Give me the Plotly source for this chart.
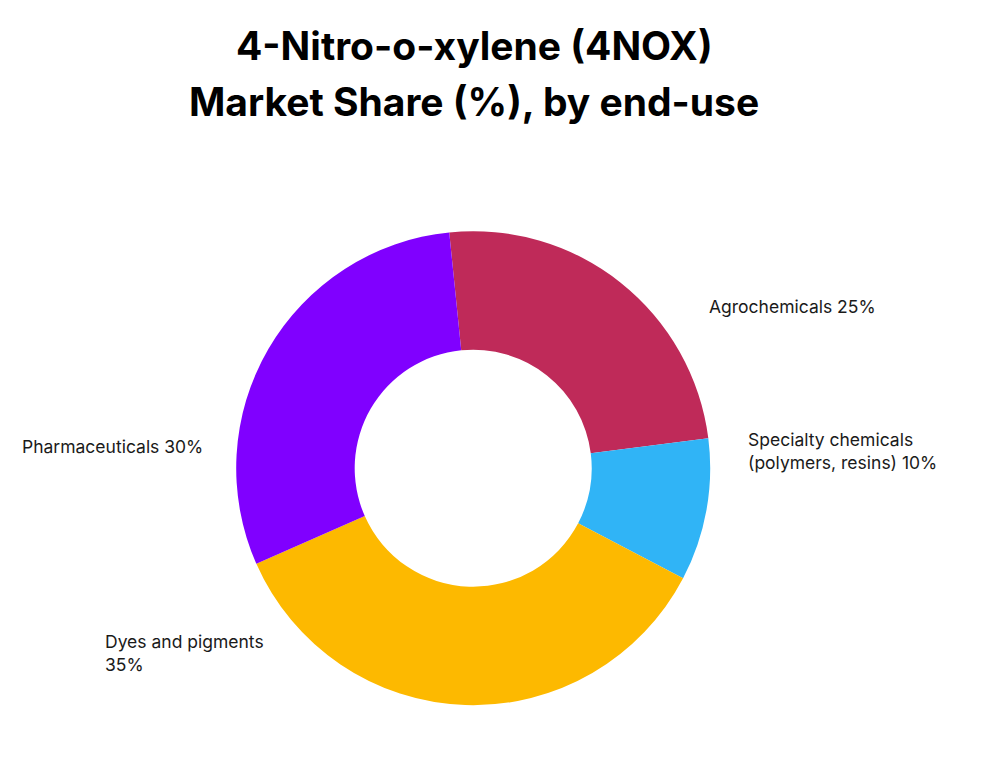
import plotly.graph_objects as go

categories = ["Agrochemicals", "Specialty chemicals (polymers, resins)", "Dyes and pigments", "Pharmaceuticals"]
shares = [24.6, 9.7, 35.7, 30.0]
colors = ["#BF2A59", "#30B4F6", "#FDB900", "#8000FF"]
label_texts = ["Agrochemicals 25%", "Specialty chemicals<br>(polymers, resins) 10%", "Dyes and pigments<br>35%", "Pharmaceuticals 30%"]
title_lines = ["4-Nitro-o-xylene (4NOX)", "Market Share (%), by end-use"]

OFF = 8  # default page body margin
W, H = 996 - 2 * OFF, 757 - 2 * OFF
cx, cy, r = 473.2 - OFF, 468.2 - OFF, 237


def px(x):
    return (x - OFF) / W


def py(y):
    return 1 - (y - OFF) / H


fig = go.Figure(go.Pie(
    labels=categories,
    values=shares,
    hole=0.5,
    sort=False,
    direction="clockwise",
    rotation=-5.8,
    marker=dict(colors=colors, line=dict(width=0)),
    textinfo="none",
    hoverinfo="label",
    showlegend=False,
    domain=dict(x=[(cx - r) / W, (cx + r) / W], y=[(H - cy - r) / H, (H - cy + r) / H]),
))

label_pos = [(707, 306), (746, 451), (103, 653), (20, 446)]
for txt, (x, y) in zip(label_texts, label_pos):
    fig.add_annotation(x=px(x), y=py(y), xref="paper", yref="paper", text=txt,
                       showarrow=False, xanchor="left", yanchor="middle", align="left",
                       font=dict(family="Inter", size=17.5, color="#1a1a1a"))

for txt, y in zip(title_lines, [45, 102]):
    fig.add_annotation(x=px(474), y=py(y), xref="paper", yref="paper", text="<b>" + txt + "</b>",
                       showarrow=False, xanchor="center", yanchor="middle",
                       font=dict(family="Inter", size=39, color="#000000"))

fig.update_layout(width=W, height=H, margin=dict(l=0, r=0, t=0, b=0),
                  paper_bgcolor="white", plot_bgcolor="white")

fig.write_html("out.html")
